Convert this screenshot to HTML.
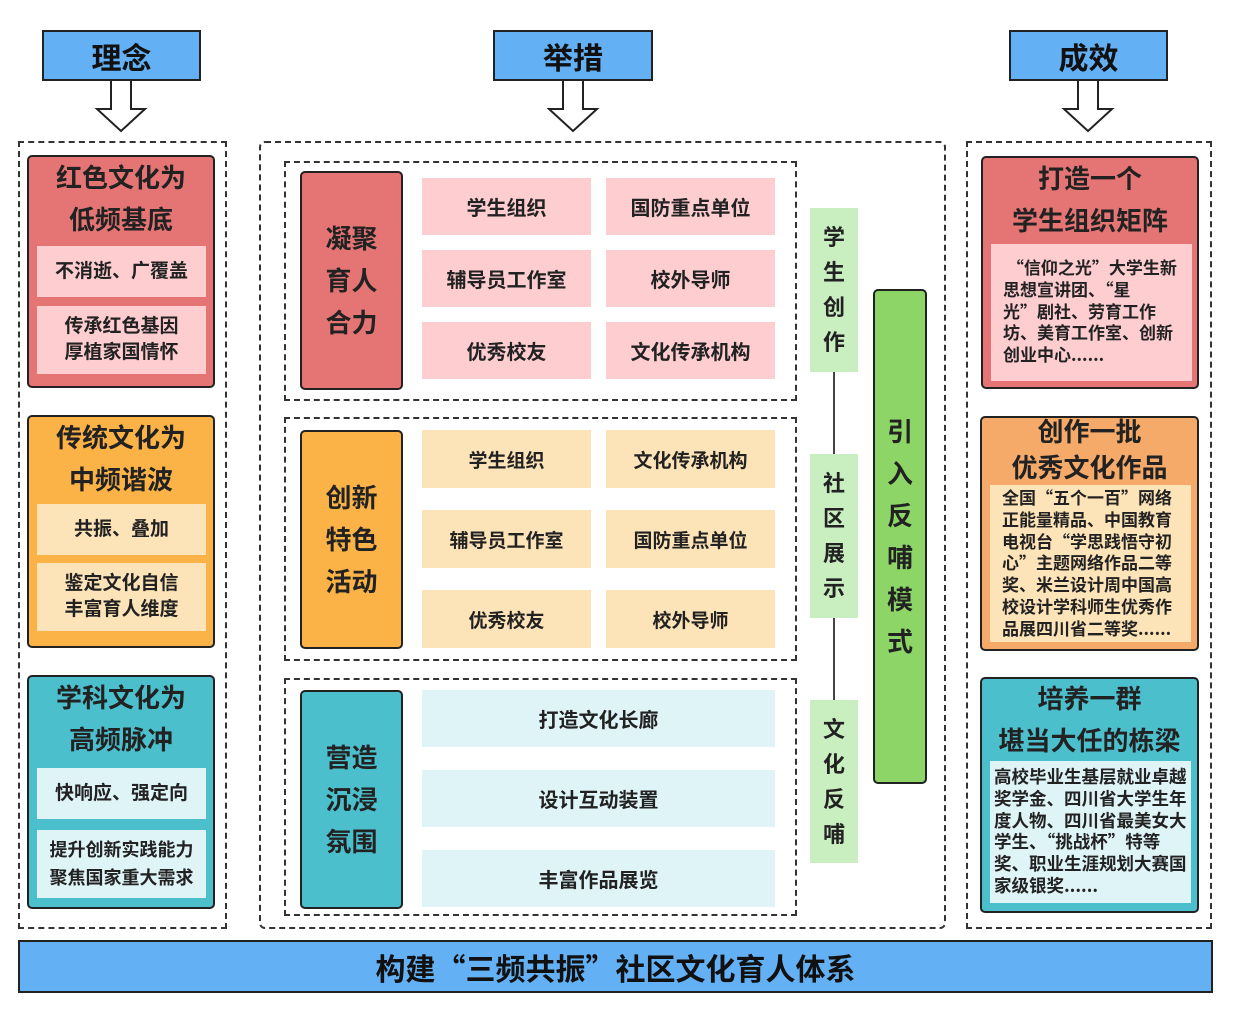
<!DOCTYPE html>
<html><head><meta charset="utf-8"><style>
body{margin:0;width:1234px;height:1014px;background:#fff;position:relative;overflow:hidden;font-family:"Liberation Sans","Noto Sans CJK SC",sans-serif;font-weight:bold;color:#222}
div{position:absolute;box-sizing:border-box}
q,.q{font-family:"Noto Sans CJK SC",sans-serif}
q{quotes:none}
.c{display:flex;align-items:center;justify-content:center;text-align:center}
.hd{background:#64b0f4;border:2px solid #222;font-size:30px;color:#111}
.dash{border:2px dashed #333}
.card{border:2px solid #222;border-radius:5px}
.red{background:#e57574}.pink{background:#fdcdd0}
.org{background:#fbb347}.lorg{background:#fde3b8}
.org2{background:#f5aa6a}
.teal{background:#4cbfcd}.lcy{background:#dff4f7}
.t{font-size:26px;line-height:42px;text-align:center;width:100%}
.in{font-size:19px;line-height:26px}
.sm{font-size:17px;line-height:21.8px;text-align:left;padding:4px 8px;white-space:nowrap;font-family:"Noto Sans CJK SC",sans-serif}
.lab{font-size:26px;line-height:42px}
.cell{font-size:20px}
.lg{background:#c9efc1;font-size:22px;line-height:35px;width:48px}
</style></head><body>
<div class="hd c" style="left:42px;top:30px;width:159px;height:51px">理念</div>
<div class="hd c" style="left:493px;top:30px;width:160px;height:51px">举措</div>
<div class="hd c" style="left:1009px;top:30px;width:159px;height:51px">成效</div>
<svg style="position:absolute;left:0;top:0" width="1234" height="140">
<g fill="#fff" stroke="#222" stroke-width="2">
<path d="M111 81 V109 H97 L121 131 L145 109 H131 V81"/>
<path d="M563 81 V109 H549 L573 131 L597 109 H583 V81"/>
<path d="M1078 81 V109 H1064 L1088 131 L1112 109 H1098 V81"/>
</g></svg>
<div class="dash" style="left:18px;top:141px;width:209px;height:788px"></div>
<div class="dash" style="left:259px;top:141px;width:687px;height:788px;border-radius:6px"></div>
<div class="dash" style="left:966px;top:141px;width:246px;height:788px"></div>
<div class="card red" style="left:27px;top:155px;width:188px;height:233px">
<div class="t" style="top:0">红色文化为<br>低频基底</div>
<div class="pink c in" style="left:8px;top:89px;width:169px;height:51px">不消逝、广覆盖</div>
<div class="pink c in" style="left:8px;top:149px;width:169px;height:68px">传承红色基因<br>厚植家国情怀</div>
</div>
<div class="card org" style="left:27px;top:415px;width:188px;height:233px">
<div class="t" style="top:0">传统文化为<br>中频谐波</div>
<div class="lorg c in" style="left:8px;top:87px;width:169px;height:51px">共振、叠加</div>
<div class="lorg c in" style="left:8px;top:146px;width:169px;height:68px">鉴定文化自信<br>丰富育人维度</div>
</div>
<div class="card teal" style="left:27px;top:675px;width:188px;height:234px">
<div class="t" style="top:0">学科文化为<br>高频脉冲</div>
<div class="lcy c in" style="left:8px;top:91px;width:169px;height:51px">快响应、强定向</div>
<div class="lcy c in" style="left:8px;top:153px;width:169px;height:68px;font-size:18px;line-height:28px">提升创新实践能力<br>聚焦国家重大需求</div>
</div>
<div class="dash" style="left:284px;top:161px;width:513px;height:240px"></div>
<div class="dash" style="left:284px;top:417px;width:513px;height:244px"></div>
<div class="dash" style="left:284px;top:678px;width:513px;height:238px"></div>
<div class="card red c lab" style="left:300px;top:171px;width:103px;height:219px">凝聚<br>育人<br>合力</div>
<div class="card org c lab" style="left:300px;top:430px;width:103px;height:219px">创新<br>特色<br>活动</div>
<div class="card teal c lab" style="left:300px;top:690px;width:103px;height:219px">营造<br>沉浸<br>氛围</div>
<div class="pink c cell" style="left:422px;top:178px;width:169px;height:57px">学生组织</div>
<div class="pink c cell" style="left:606px;top:178px;width:169px;height:57px">国防重点单位</div>
<div class="pink c cell" style="left:422px;top:250px;width:169px;height:57px">辅导员工作室</div>
<div class="pink c cell" style="left:606px;top:250px;width:169px;height:57px">校外导师</div>
<div class="pink c cell" style="left:422px;top:322px;width:169px;height:57px">优秀校友</div>
<div class="pink c cell" style="left:606px;top:322px;width:169px;height:57px">文化传承机构</div>
<div class="lorg c cell" style="left:422px;top:430px;width:169px;height:58px;font-size:19px">学生组织</div>
<div class="lorg c cell" style="left:606px;top:430px;width:169px;height:58px;font-size:19px">文化传承机构</div>
<div class="lorg c cell" style="left:422px;top:510px;width:169px;height:58px;font-size:19px">辅导员工作室</div>
<div class="lorg c cell" style="left:606px;top:510px;width:169px;height:58px;font-size:19px">国防重点单位</div>
<div class="lorg c cell" style="left:422px;top:590px;width:169px;height:58px;font-size:19px">优秀校友</div>
<div class="lorg c cell" style="left:606px;top:590px;width:169px;height:58px;font-size:19px">校外导师</div>
<div class="lcy c cell" style="left:422px;top:690px;width:353px;height:57px">打造文化长廊</div>
<div class="lcy c cell" style="left:422px;top:770px;width:353px;height:57px">设计互动装置</div>
<div class="lcy c cell" style="left:422px;top:850px;width:353px;height:57px">丰富作品展览</div>
<div style="left:833px;top:370px;width:2px;height:332px;background:#444"></div>
<div class="lg c" style="left:810px;top:208px;height:164px">学<br>生<br>创<br>作</div>
<div class="lg c" style="left:810px;top:454px;height:164px">社<br>区<br>展<br>示</div>
<div class="lg c" style="left:810px;top:700px;height:163px">文<br>化<br>反<br>哺</div>
<div class="card c" style="left:873px;top:289px;width:54px;height:495px;background:#8dd566;font-size:26px;line-height:42px">引<br>入<br>反<br>哺<br>模<br>式</div>
<div class="card red" style="left:981px;top:156px;width:218px;height:233px">
<div class="t" style="top:0">打造一个<br>学生组织矩阵</div>
<div class="pink sm" style="left:8px;top:86px;width:201px;height:137px;padding-top:12px;padding-left:12px">&nbsp;“信仰之光”大学生新<br>思想宣讲团、“星<br>光”剧社、劳育工作<br>坊、美育工作室、创新<br>创业中心......</div>
</div>
<div class="card org2" style="left:980px;top:416px;width:219px;height:235px">
<div class="t" style="top:-4px;line-height:36px">创作一批<br>优秀文化作品</div>
<div class="lorg sm" style="left:8px;top:67px;width:201px;height:157px;padding-top:1px;padding-left:12px">全国“五个一百”网络<br>正能量精品、中国教育<br>电视台“学思践悟守初<br>心”主题网络作品二等<br>奖、米兰设计周中国高<br>校设计学科师生优秀作<br>品展四川省二等奖......</div>
</div>
<div class="card teal" style="left:980px;top:677px;width:219px;height:236px">
<div class="t" style="top:-1px">培养一群<br>堪当大任的栋梁</div>
<div class="lcy sm" style="left:8px;top:82px;width:201px;height:142px;padding:5px 3px 3px 4px;font-size:17.5px">高校毕业生基层就业卓越<br>奖学金、四川省大学生年<br>度人物、四川省最美女大<br>学生、“挑战杯”特等<br>奖、职业生涯规划大赛国<br>家级银奖......</div>
</div>
<div class="hd c" style="left:18px;top:940px;width:1195px;height:53px;font-size:30px;font-family:'Noto Sans CJK SC',sans-serif">构建“三频共振”社区文化育人体系</div>
</body></html>
